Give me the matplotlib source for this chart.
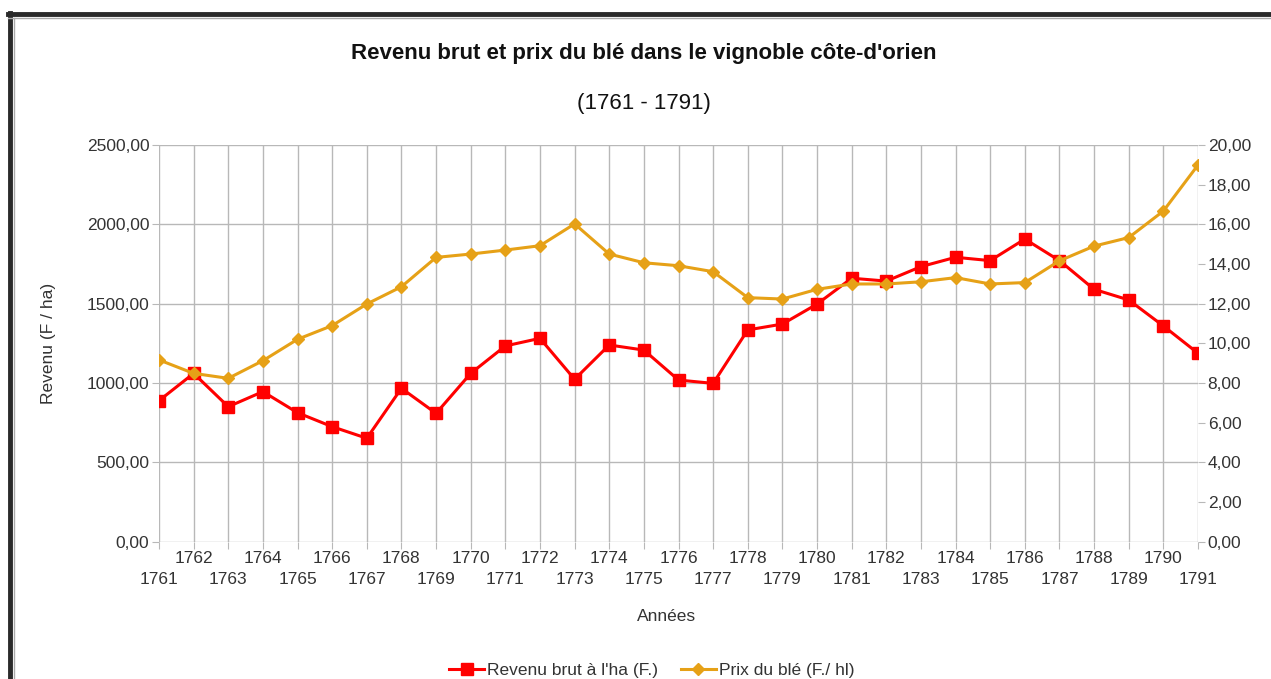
import matplotlib
matplotlib.use("Agg")
import matplotlib.pyplot as plt
from matplotlib.lines import Line2D
from matplotlib.ticker import FuncFormatter, FixedLocator, FixedFormatter

years = list(range(1761, 1792))
revenu = [888, 1060, 850, 945, 812, 724, 651, 966, 808, 1060,
          1233, 1281, 1023, 1239, 1207, 1018, 997, 1334, 1371, 1497,
          1660, 1642, 1733, 1792, 1771, 1907, 1771, 1590, 1523, 1359, 1187]
prix_ble = [9.16, 8.48, 8.23, 9.12, 10.20, 10.89, 11.98, 12.85, 14.33, 14.50,
            14.70, 14.92, 16.02, 14.50, 14.06, 13.91, 13.61, 12.30, 12.23, 12.72,
            12.99, 12.99, 13.10, 13.31, 12.99, 13.06, 14.16, 14.90, 15.33, 16.67, 18.99]
left_ticks = [0, 500, 1000, 1500, 2000, 2500]
right_ticks = [0, 2, 4, 6, 8, 10, 12, 14, 16, 18, 20]

title = "Revenu brut et prix du blé dans le vignoble côte-d'orien"
subtitle = "(1761 - 1791)"
label_rev = "Revenu brut à l'ha (F.)"
label_prix = "Prix du blé (F./ hl)"

RED = "#ff0000"
GOLD = "#e6a117"
TXT = "#333333"
GRID = "#b8b8b8"
FS = 12.5

plt.rcParams['font.family'] = ['Liberation Sans', 'DejaVu Sans']

W, H = 1271, 679
fig = plt.figure(figsize=(W / 100, H / 100), dpi=100)
fig.patch.set_facecolor("white")

l, r, t, b = 159, 1198, 145, 541.5
ax = fig.add_axes([l / W, 1 - b / H, (r - l) / W, (b - t) / H])
ax2 = ax.twinx()

ax.set_xlim(years[0], years[-1])
ax.set_ylim(0, 2500)
ax2.set_ylim(0, 20)

even_years = [y for y in years if y % 2 == 0]
odd_years = [y for y in years if y % 2 == 1]
ax.xaxis.set_major_locator(FixedLocator(even_years))
ax.xaxis.set_major_formatter(FixedFormatter([str(y) for y in even_years]))
ax.xaxis.set_minor_locator(FixedLocator(odd_years))
ax.xaxis.set_minor_formatter(FixedFormatter([str(y) for y in odd_years]))

ax.set_yticks(left_ticks)
ax.yaxis.set_major_formatter(FuncFormatter(lambda v, p: f"{v:.2f}".replace(".", ",")))
ax2.set_yticks(right_ticks)
ax2.yaxis.set_major_formatter(FuncFormatter(lambda v, p: f"{v:.2f}".replace(".", ",")))

for a in (ax, ax2):
    a.tick_params(axis='both', which='both', colors=GRID, labelcolor=TXT,
                  labelsize=FS, length=5, width=0.8, pad=2)
    for s in a.spines.values():
        s.set_visible(False)
ax.tick_params(axis='x', which='minor', pad=17)

ax.grid(True, which='both', axis='x', color=GRID, linewidth=1)
ax.grid(True, which='major', axis='y', color=GRID, linewidth=1)
ax.set_axisbelow(True)

ax.plot(years, revenu, color=RED, linewidth=2.2, marker='s', markersize=8, zorder=3)
ax2.plot(years, prix_ble, color=GOLD, linewidth=2.2, marker='D', markersize=6, zorder=3)

ax.set_ylabel("Revenu (F / ha)", fontsize=FS, color=TXT, labelpad=22)
ax.set_xlabel("Années", fontsize=FS, color=TXT)
ax.xaxis.set_label_coords((667 - l) / (r - l), (b - 609) / (b - t))

fig.text(644 / W, 1 - 54 / H, title, ha='center', va='center',
         fontsize=16, fontweight='bold', color='#111111')
fig.text(644 / W, 1 - 103 / H, subtitle, ha='center', va='center',
         fontsize=16, color='#111111')

handles = [Line2D([], [], color=RED, linewidth=2.2, marker='s', markersize=8),
           Line2D([], [], color=GOLD, linewidth=2.2, marker='D', markersize=6)]
fig.legend(handles, [label_rev, label_prix], loc='center', ncol=2,
           bbox_to_anchor=(652 / W, 1 - 670 / H), frameon=False,
           fontsize=FS, labelcolor=TXT, handlelength=2.0, handletextpad=0.2,
           columnspacing=1.3)

# outer frame (top and left edges)
fig.add_artist(Line2D([8 / W, 1], [1 - 14 / H, 1 - 14 / H], color='#2a2a2a',
                      linewidth=3.5, transform=fig.transFigure))
fig.add_artist(Line2D([10 / W, 10 / W], [0, 1 - 12.5 / H], color='#2a2a2a',
                      linewidth=3.5, transform=fig.transFigure))
fig.add_artist(Line2D([8 / W, 1], [1 - 18 / H, 1 - 18 / H], color='#aaaaaa',
                      linewidth=1, transform=fig.transFigure))
fig.add_artist(Line2D([14 / W, 14 / W], [0, 1 - 18 / H], color='#aaaaaa',
                      linewidth=1, transform=fig.transFigure))

fig.savefig("out.png", dpi=100)
